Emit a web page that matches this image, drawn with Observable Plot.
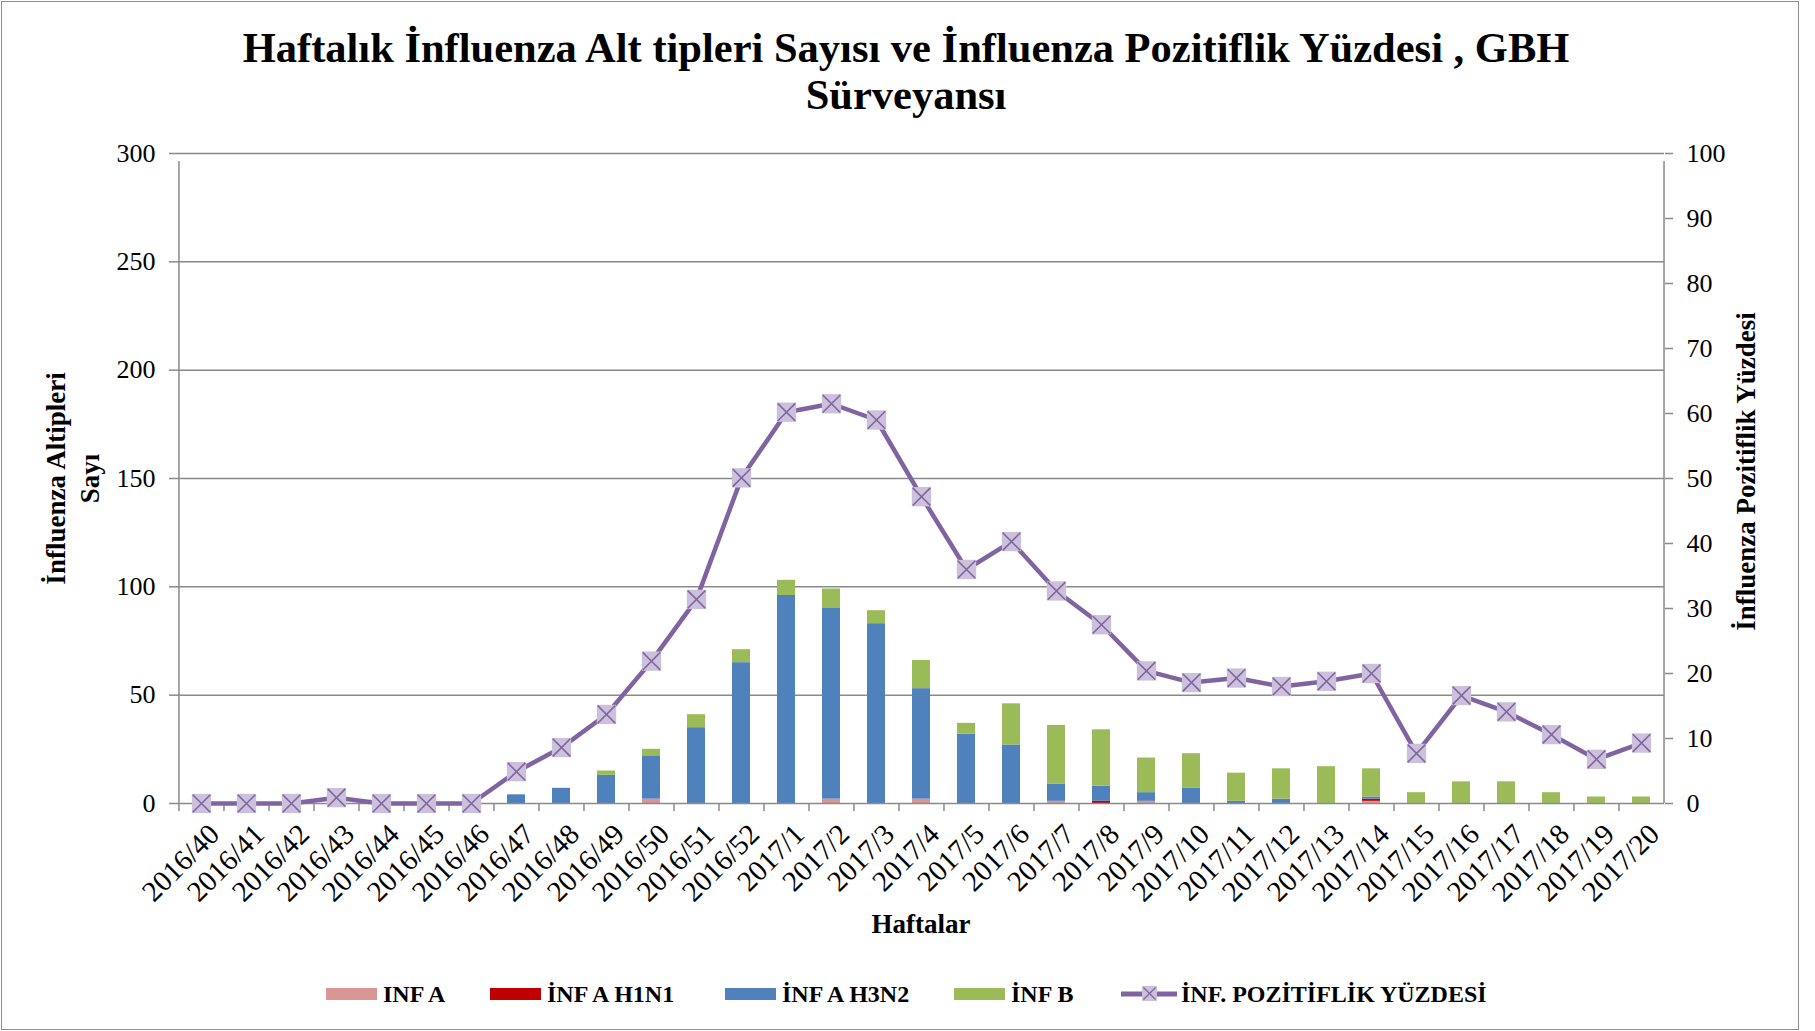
<!DOCTYPE html>
<html>
<head>
<meta charset="utf-8">
<script src="https://cdn.jsdelivr.net/npm/d3@7"></script>
<script src="https://cdn.jsdelivr.net/npm/@observablehq/plot@0.6"></script>
<style>
  body { margin: 0; background: #fff; }
  #wrap { position: relative; width: 1815px; height: 1031px; overflow: hidden; font-family: "Liberation Serif", "Times New Roman", serif; color: #000; }
  #frame { position: absolute; left: 1px; top: 1px; width: 1798px; height: 1029px; border: 1.5px solid #8e8e8e; box-sizing: border-box; pointer-events: none; }
  #title { position: absolute; left: 0; width: 1812px; top: 24px; text-align: center; font-weight: bold; font-size: 42.5px; line-height: 47px; }
  #chart { position: absolute; left: 0; top: 0; }
  .leg { position: absolute; top: 981px; height: 26px; display: flex; align-items: center; font-weight: bold; font-size: 24px; white-space: nowrap; }
  .sw { display: inline-block; width: 51px; height: 12px; margin-right: 6px; }
</style>
</head>
<body>
<div id="wrap">
  <div id="title">Haftalık İnfluenza Alt tipleri Sayısı ve İnfluenza Pozitiflik Yüzdesi , GBH<br>Sürveyansı</div>
  <div id="chart"></div>
  <div id="legend"></div>
  <div id="frame"></div>
</div>
<script>
// ---- data ----
const weeks = [
  "2016/40","2016/41","2016/42","2016/43","2016/44","2016/45","2016/46","2016/47","2016/48","2016/49",
  "2016/50","2016/51","2016/52","2017/1","2017/2","2017/3","2017/4","2017/5","2017/6","2017/7",
  "2017/8","2017/9","2017/10","2017/11","2017/12","2017/13","2017/14","2017/15","2017/16","2017/17",
  "2017/18","2017/19","2017/20"
];
const seriesNames = ["INF A", "İNF A H1N1", "İNF A H3N2", "İNF B"];
const seriesColors = ["#D99694", "#C00000", "#4F81BD", "#9BBB59"];
const infA   = [0,0,0,0,0,0,0,0,0,0, 2,0,0,0,2,0,2,0,0,1, 0,1,0,0,0,0,1,0,0,0, 0,0,0];
const infH1N1= [0,0,0,0,0,0,0,0,0,0, 0,0,0,0,0,0,0,0,0,0, 1,0,0,0,0,0,1,0,0,0, 0,0,0];
const infH3N2= [0,0,0,0,0,0,0,4,7,13, 20,35,65,96,88,83,51,32,27,8, 7,4,7,1,2,0,1,0,0,0, 0,0,0];
const infB   = [0,0,0,0,0,0,0,0,0,2, 3,6,6,7,9,6,13,5,19,27, 26,16,16,13,14,17,13,5,10,10, 5,3,3];
const positivity = [0,0,0,0.9,0,0,0,4.9,8.6,13.7, 21.9,31.4,50.1,60.2,61.5,59.0,47.2,36.0,40.3,32.7,
  27.5,20.4,18.6,19.3,18.0,18.8,20.0,7.7,16.6,14.1, 10.6,6.8,9.3];
const lineName = "İNF. POZİTİFLİK YÜZDESİ";
const lineColor = "#8064A2";
const markerFill = "#CCC1DA";
const leftTicks = [0, 50, 100, 150, 200, 250, 300];
const rightTicks = [0, 10, 20, 30, 40, 50, 60, 70, 80, 90, 100];

// ---- derived tables ----
const seriesValues = [infA, infH1N1, infH3N2, infB];
const stacked = [];
weeks.forEach((w, i) => seriesNames.forEach((s, k) => stacked.push({week: w, series: s, value: seriesValues[k][i]})));
const pctRows = weeks.map((w, i) => ({week: w, pct: positivity[i]}));
const yMax = 300, pMax = 100, k = yMax / pMax; // right axis mapped onto left scale

const W = 1815, H = 1031;
const mL = 177, mR = 151, mT = 153, mB = 228;
const half = (W - mL - mR) / weeks.length / 2;
const grey = "#8a8a8a";
const font = "Liberation Serif, Times New Roman, serif";

const chart = Plot.plot({
  width: W, height: H,
  marginTop: mT, marginBottom: mB, marginLeft: mL, marginRight: mR,
  style: {fontFamily: font, fontSize: "26px", background: "transparent", color: "black", overflow: "visible"},
  x: {domain: weeks, paddingInner: 0.6, paddingOuter: 0.3, axis: null},
  y: {domain: [0, yMax]},
  color: {domain: seriesNames, range: seriesColors},
  marks: [
    Plot.ruleY(leftTicks.filter(d => d > 0), {stroke: grey, strokeWidth: 1.5}),
    Plot.barY(stacked, {x: "week", y: "value", fill: "series"}),
    Plot.ruleY([0], {stroke: grey, strokeWidth: 1.5}),
    // left and right axis lines
    Plot.ruleX([weeks[0]], {x: d => d, y1: 0, y2: yMax, dx: -half, insetBottom: -8, stroke: grey, strokeWidth: 1.5}),
    Plot.ruleX([weeks[weeks.length - 1]], {x: d => d, y1: 0, y2: yMax, dx: half, insetBottom: -8, stroke: grey, strokeWidth: 1.5}),
    // category boundary ticks
    Plot.ruleX(weeks, {x: d => d, y1: 0, y2: 0, dx: -half, insetBottom: -8, stroke: grey, strokeWidth: 1.5}),
    // left axis
    Plot.axisY({anchor: "left", ticks: leftTicks, tickSize: 8, tickPadding: 14, stroke: grey, strokeWidth: 1.5, fill: "black", label: null, fontSize: 26}),
    // right axis
    Plot.axisY({anchor: "right", ticks: rightTicks.map(v => v * k), tickFormat: d => String(Math.round(d / k)), tickSize: 8, tickPadding: 14, stroke: grey, strokeWidth: 1.5, fill: "black", label: null, fontSize: 26}),
    // positivity line
    Plot.line(pctRows, {x: "week", y: d => d.pct * k, stroke: lineColor, strokeWidth: 4.5, strokeLinejoin: "round"}),
    Plot.dot(pctRows, {x: "week", y: d => d.pct * k, symbol: "square", r: 10.9, fill: markerFill, stroke: "none"}),
    Plot.dot(pctRows, {x: "week", y: d => d.pct * k, symbol: "times", r: 8.05, stroke: lineColor, strokeWidth: 1.6}),
    // x tick labels
    Plot.text(weeks, {x: d => d, y: d => 0, text: d => d, rotate: -45, textAnchor: "end", lineAnchor: "middle", dx: 13, dy: 26, fontSize: 29, fill: "black"}),
    // axis titles
    Plot.text(["Haftalar"], {frameAnchor: "bottom", dy: 129, fontWeight: "bold", fontSize: 27, fill: "black"}),
    Plot.text(["İnfluenza Altipleri\nSayı"], {frameAnchor: "left", textAnchor: "middle", dx: -106, rotate: -90, fontWeight: "bold", fontSize: 27, lineHeight: 1.25, fill: "black"}),
    Plot.text(["İnfluenza Pozitiflik Yüzdesi"], {frameAnchor: "right", textAnchor: "middle", dx: 82, dy: -7, rotate: -90, fontWeight: "bold", fontSize: 27, fill: "black"})
  ]
});
document.getElementById("chart").appendChild(chart);

// ---- legend ----
const legend = document.getElementById("legend");
const legendLeft = [326, 490, 725, 954];
seriesNames.forEach((s, i) => {
  const d = document.createElement("div");
  d.className = "leg";
  d.style.left = legendLeft[i] + "px";
  d.innerHTML = `<span class="sw" style="background:${seriesColors[i]}"></span>${s}`;
  legend.appendChild(d);
});
const ld = document.createElement("div");
ld.className = "leg";
ld.style.left = "1121px";
ld.innerHTML = `<svg width="56" height="20" style="margin-right:4px">
  <line x1="0" y1="10" x2="56" y2="10" stroke="${lineColor}" stroke-width="5"/>
  <rect x="21" y="2" width="15" height="15" fill="${markerFill}"/>
  <path d="M22.5,3.5L34.5,15.5M34.5,3.5L22.5,15.5" stroke="${lineColor}" stroke-width="1.4"/>
</svg>${lineName}`;
legend.appendChild(ld);
</script>
</body>
</html>
